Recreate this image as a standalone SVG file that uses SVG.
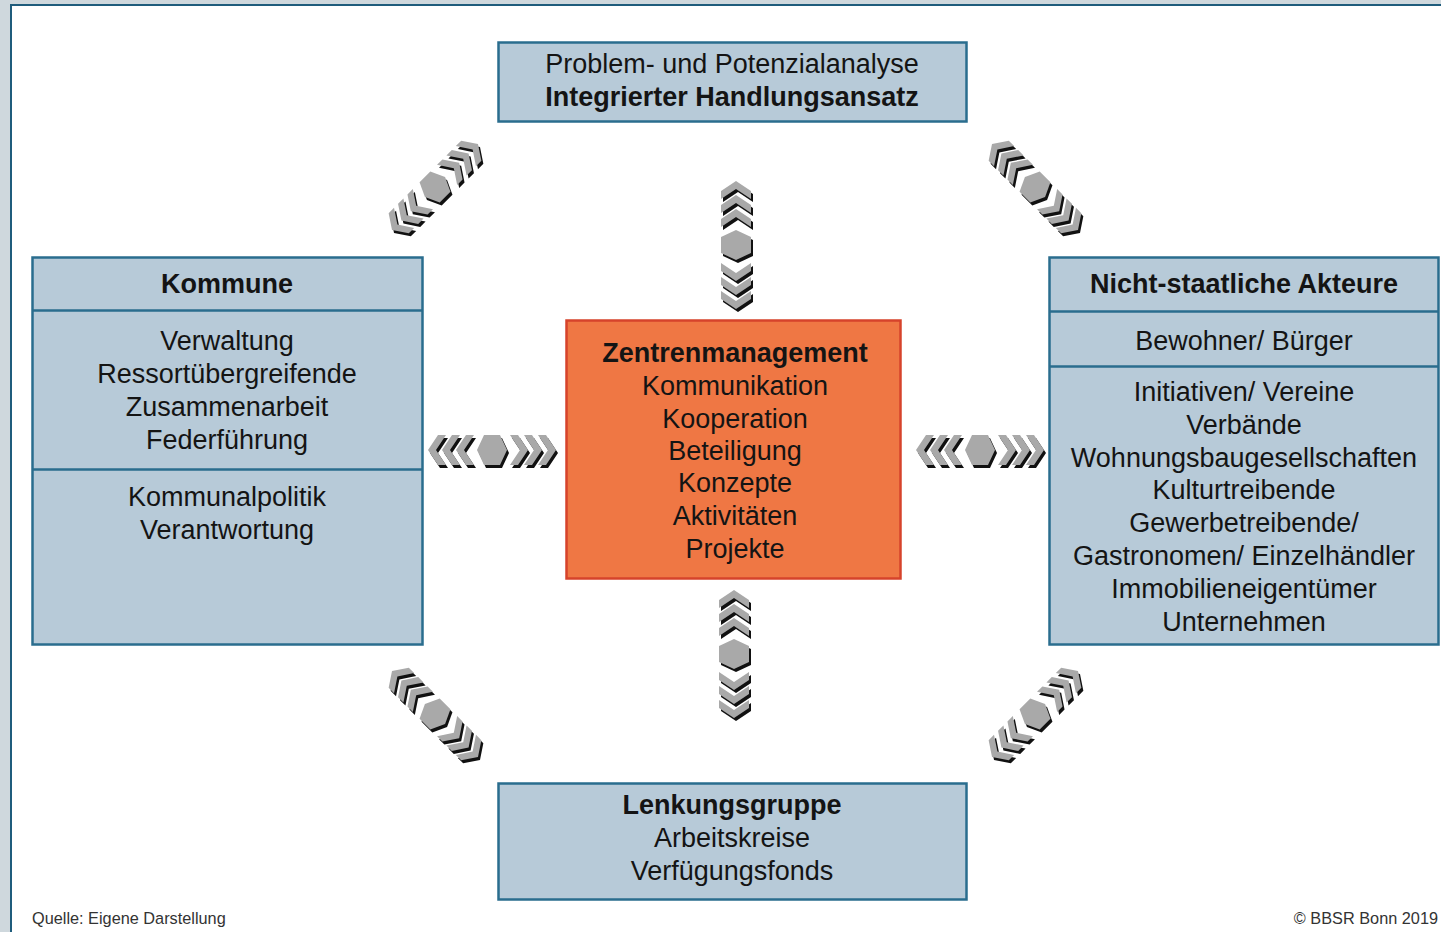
<svg xmlns="http://www.w3.org/2000/svg" xmlns:xlink="http://www.w3.org/1999/xlink" width="1441" height="932" viewBox="0 0 1441 932">
<style>
text{font-family:"Liberation Sans",Arial,sans-serif;font-size:27px;fill:#141414;text-anchor:middle;}
.b{font-weight:bold;}
.box{fill:#b7cad8;stroke:#2a6d8e;stroke-width:2.5;}
.div{stroke:#2a6d8e;stroke-width:2.5;}
.org{fill:#ef7744;stroke:#d6432b;stroke-width:2.5;}
.sh{fill:#111;}
.ar{fill:#a9a9a9;}
.foot{font-size:16.3px;fill:#333;}
</style>
<defs>
<g id="arr">
<polygon points="-15,0 -8,-15 8,-15 15,0 8,15 -8,15"/>
<polygon points="18,-15 26,-15 36,0 26,15 18,15 28,0"/>
<polygon points="32,-15 40,-15 50,0 40,15 32,15 42,0"/>
<polygon points="46,-15 54,-15 64,0 54,15 46,15 56,0"/>
<polygon points="-18,-15 -26,-15 -36,0 -26,15 -18,15 -28,0"/>
<polygon points="-32,-15 -40,-15 -50,0 -40,15 -32,15 -42,0"/>
<polygon points="-46,-15 -54,-15 -64,0 -54,15 -46,15 -56,0"/>
</g>
</defs>
<rect x="0" y="0" width="1441" height="932" fill="#cfd8dd"/>
<rect x="11" y="5" width="1432" height="930" fill="#ffffff" stroke="#1f5c7c" stroke-width="2"/>

<g id="connectors">
<g transform="translate(492,450)"><use xlink:href="#arr" class="sh" transform="translate(2,3)"/><use xlink:href="#arr" class="ar"/></g>
<g transform="translate(980,450)"><use xlink:href="#arr" class="sh" transform="translate(2,3)"/><use xlink:href="#arr" class="ar"/></g>
<g transform="translate(736,245)"><use xlink:href="#arr" class="sh" transform="translate(2,3) rotate(90)"/><use xlink:href="#arr" class="ar" transform="rotate(90)"/></g>
<g transform="translate(734,654)"><use xlink:href="#arr" class="sh" transform="translate(2,3) rotate(90)"/><use xlink:href="#arr" class="ar" transform="rotate(90)"/></g>
<g transform="translate(435,187)"><use xlink:href="#arr" class="sh" transform="translate(2,3) rotate(-45) scale(0.95)"/><use xlink:href="#arr" class="ar" transform="rotate(-45) scale(0.95)"/></g>
<g transform="translate(1035,187)"><use xlink:href="#arr" class="sh" transform="translate(2,3) rotate(45) scale(0.95)"/><use xlink:href="#arr" class="ar" transform="rotate(45) scale(0.95)"/></g>
<g transform="translate(435,714)"><use xlink:href="#arr" class="sh" transform="translate(2,3) rotate(45) scale(0.95)"/><use xlink:href="#arr" class="ar" transform="rotate(45) scale(0.95)"/></g>
<g transform="translate(1035,714)"><use xlink:href="#arr" class="sh" transform="translate(2,3) rotate(-45) scale(0.95)"/><use xlink:href="#arr" class="ar" transform="rotate(-45) scale(0.95)"/></g>
</g>

<g id="analyse">
<rect class="box" x="498.5" y="42.5" width="468" height="79"/>
<text x="732" y="73">Problem- und Potenzialanalyse</text>
<text x="732" y="106" class="b">Integrierter Handlungsansatz</text>
</g>

<g id="kommune">
<rect class="box" x="32.5" y="257.5" width="390" height="387"/>
<line class="div" x1="32.5" y1="310.5" x2="422.5" y2="310.5"/>
<line class="div" x1="32.5" y1="469.5" x2="422.5" y2="469.5"/>
<text x="227" y="293" class="b">Kommune</text>
<text x="227" y="350">Verwaltung</text>
<text x="227" y="383">Ressortübergreifende</text>
<text x="227" y="416">Zusammenarbeit</text>
<text x="227" y="449">Federführung</text>
<text x="227" y="506">Kommunalpolitik</text>
<text x="227" y="539">Verantwortung</text>
</g>

<g id="akteure">
<rect class="box" x="1049.5" y="257.5" width="389" height="387"/>
<line class="div" x1="1049.5" y1="311.5" x2="1438.5" y2="311.5"/>
<line class="div" x1="1049.5" y1="366.5" x2="1438.5" y2="366.5"/>
<text x="1244" y="293" class="b">Nicht-staatliche Akteure</text>
<text x="1244" y="350">Bewohner/ Bürger</text>
<text x="1244" y="401">Initiativen/ Vereine</text>
<text x="1244" y="434">Verbände</text>
<text x="1244" y="467">Wohnungsbaugesellschaften</text>
<text x="1244" y="499">Kulturtreibende</text>
<text x="1244" y="532">Gewerbetreibende/</text>
<text x="1244" y="565">Gastronomen/ Einzelhändler</text>
<text x="1244" y="598">Immobilieneigentümer</text>
<text x="1244" y="631">Unternehmen</text>
</g>

<g id="zentrenmanagement">
<rect class="org" x="566.5" y="320.5" width="334" height="258"/>
<text x="735" y="362" class="b">Zentrenmanagement</text>
<text x="735" y="395">Kommunikation</text>
<text x="735" y="428">Kooperation</text>
<text x="735" y="460">Beteiligung</text>
<text x="735" y="492">Konzepte</text>
<text x="735" y="525">Aktivitäten</text>
<text x="735" y="558">Projekte</text>
</g>

<g id="lenkungsgruppe">
<rect class="box" x="498.5" y="783.5" width="468" height="116"/>
<text x="732" y="814" class="b">Lenkungsgruppe</text>
<text x="732" y="847">Arbeitskreise</text>
<text x="732" y="880">Verfügungsfonds</text>
</g>

<text x="32" y="924" class="foot" style="text-anchor:start">Quelle: Eigene Darstellung</text>
<text x="1438" y="924" class="foot" style="text-anchor:end">© BBSR Bonn 2019</text>
</svg>
